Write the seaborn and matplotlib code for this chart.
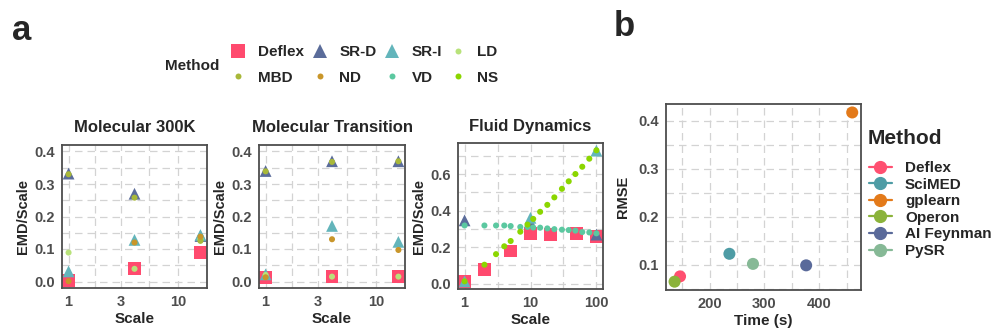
import matplotlib
matplotlib.use("Agg")
import matplotlib.pyplot as plt
from matplotlib.lines import Line2D
from matplotlib.ticker import FixedLocator, NullFormatter
import seaborn as sns
import pandas as pd

sns.set_style("white")
plt.rcParams['font.family'] = ['Liberation Sans', 'DejaVu Sans']
plt.rcParams['font.weight'] = 'bold'

# ---- panel a data ----
methods_a = ["Deflex", "SR-D", "SR-I", "LD", "MBD", "ND", "VD", "NS"]
colors_a = ["#FF4A6E", "#5B6C9A", "#63B5BB", "#B8E27A", "#A8B839", "#C9962A", "#5BC8A0", "#8BD600"]
markers_a = ["s", "^", "^", "o", "o", "o", "o", "o"]
sizes_a = [85, 72, 72, 19, 19, 19, 19, 19]

scale_mol = [1, 4, 16]
m300 = {
    "Deflex": [0.003, 0.039, 0.089],
    "SR-D": [0.332, 0.270, 0.140],
    "SR-I": [0.031, 0.128, 0.143],
    "LD": [0.089, 0.039, 0.130],
    "MBD": [0.330, 0.258, 0.125],
    "ND": [0.001, 0.120, 0.138],
}
mtrans = {
    "Deflex": [0.013, 0.015, 0.015],
    "SR-D": [0.340, 0.370, 0.370],
    "SR-I": [0.022, 0.171, 0.122],
    "LD": [0.020, 0.015, 0.015],
    "MBD": [0.339, 0.368, 0.370],
    "ND": [0.013, 0.130, 0.097],
}

scale_fd = [1, 2, 5, 10, 20, 50, 100]
fd_deflex = [0.010, 0.078, 0.178, 0.275, 0.268, 0.272, 0.258]
scale_sr = [1, 10, 100]
fd_srd = [0.346, 0.335, 0.268]
fd_sri = [0.012, 0.360, 0.728]
scale_dense = [1, 2, 3, 4, 5, 7, 9, 11, 14, 18, 23, 30, 38, 48, 61, 78, 100]
fd_vd = [0.318, 0.318, 0.318, 0.318, 0.315, 0.310, 0.310, 0.307, 0.306, 0.302,
         0.298, 0.295, 0.293, 0.290, 0.282, 0.280, 0.275]
fd_ns = [0.012, 0.103, 0.161, 0.204, 0.233, 0.284, 0.323, 0.354, 0.393, 0.431,
         0.472, 0.519, 0.560, 0.600, 0.640, 0.684, 0.730]

# ---- panel b data ----
methods_b = ["Deflex", "SciMED", "gplearn", "Operon", "AI Feynman", "PySR"]
colors_b = ["#FF4F70", "#4E9CA5", "#E37A1A", "#8BB33A", "#5A6A9A", "#86B996"]
time_b = [146, 236, 460, 136, 376, 279]
rmse_b = [0.076, 0.123, 0.417, 0.065, 0.099, 0.102]

pal_a = dict(zip(methods_a, colors_a))
mk_a = dict(zip(methods_a, markers_a))
sz_a = dict(zip(methods_a, sizes_a))

W, H = 998, 334
fig = plt.figure(figsize=(W / 100, H / 100), dpi=100)


def box(l, r, t, b):
    return [l / W, 1 - b / H, (r - l) / W, (b - t) / H]


FRAME = "#4D4D4D"
GRID = "#D3D3D3"


def style_ax(ax):
    for s in ax.spines.values():
        s.set_color(FRAME)
        s.set_linewidth(1.3)
    ax.grid(True, which="both", color=GRID, linestyle=(0, (6, 4)), linewidth=0.9)
    ax.set_axisbelow(True)
    ax.tick_params(which="major", direction="out", length=3, width=1, color=FRAME,
                   labelcolor="#4D4D4D", labelsize=10.5, pad=2)
    ax.tick_params(which="minor", length=0)
    for lab in ax.get_xticklabels() + ax.get_yticklabels():
        lab.set_fontweight("bold")


def long_df(xs, d):
    rows = []
    for m in methods_a:
        if m in d:
            for x, y in zip(xs[m] if isinstance(xs, dict) else xs, d[m]):
                rows.append((m, x, y))
    return pd.DataFrame(rows, columns=["Method", "Scale", "EMD"])


def draw_panel(ax, df, title, xticks, xminor, xlim, ylim, yticks):
    sns.scatterplot(data=df, x="Scale", y="EMD", hue="Method", style="Method", size="Method",
                    palette=pal_a, markers=mk_a, sizes=sz_a, linewidth=0, alpha=1,
                    legend=False, ax=ax)
    ax.set_xscale("log")
    ax.set_xlim(*xlim)
    ax.set_ylim(*ylim)
    ax.xaxis.set_major_locator(FixedLocator(xticks))
    ax.set_xticklabels([str(t) for t in xticks])
    ax.xaxis.set_minor_locator(FixedLocator(xminor))
    ax.xaxis.set_minor_formatter(NullFormatter())
    ax.set_yticks(yticks)
    ax.set_yticklabels([f"{t:.1f}" for t in yticks])
    ax.yaxis.set_minor_locator(FixedLocator([(a + b) / 2 for a, b in zip(yticks[:-1], yticks[1:])]
                                            + [yticks[-1] + (yticks[1] - yticks[0]) / 2]))
    ax.set_title(title, fontsize=12, fontweight="bold", pad=9)
    ax.set_xlabel("Scale", fontsize=11, fontweight="bold", labelpad=2)
    ax.set_ylabel("EMD/Scale", fontsize=10.5, fontweight="bold", labelpad=3)
    style_ax(ax)


ax1 = fig.add_axes(box(62, 207, 145, 288))
draw_panel(ax1, long_df(scale_mol, m300), "Molecular 300K", [1, 3, 10],
           [3 ** 0.5, 30 ** 0.5], (10 ** -0.06, 10 ** 1.264), (-0.02, 0.42),
           [0.0, 0.1, 0.2, 0.3, 0.4])

ax2 = fig.add_axes(box(259, 405, 145, 288))
draw_panel(ax2, long_df(scale_mol, mtrans), "Molecular Transition", [1, 3, 10],
           [3 ** 0.5, 30 ** 0.5], (10 ** -0.06, 10 ** 1.264), (-0.02, 0.42),
           [0.0, 0.1, 0.2, 0.3, 0.4])

fd = {"Deflex": fd_deflex, "SR-D": fd_srd, "SR-I": fd_sri, "VD": fd_vd, "NS": fd_ns}
fd_x = {"Deflex": scale_fd, "SR-D": scale_sr, "SR-I": scale_sr, "VD": scale_dense, "NS": scale_dense}
ax3 = fig.add_axes(box(458, 603, 143, 289))
draw_panel(ax3, long_df(fd_x, fd), "Fluid Dynamics", [1, 10, 100],
           [10 ** 0.5, 10 ** 1.5], (10 ** -0.1, 10 ** 2.1), (-0.03, 0.77),
           [0.0, 0.2, 0.4, 0.6])

# legend for panel a (row-major order rearranged for column-major fill)
handles = {m: Line2D([], [], linestyle="none", marker=mk_a[m], color=pal_a[m],
                     markersize=(9.5 if mk_a[m] != "o" else 4.3), markeredgewidth=0)
           for m in methods_a}
order = ["Deflex", "MBD", "SR-D", "ND", "SR-I", "VD", "LD", "NS"]
leg_a = fig.legend([handles[m] for m in order], order, loc="center left",
                   bbox_to_anchor=(230 / W, 1 - 65 / H), ncol=4, frameon=False,
                   prop={"size": 11, "weight": "bold"}, handlelength=1.1,
                   handletextpad=0.75, columnspacing=0.45, labelspacing=0.75,
                   borderpad=0, borderaxespad=0)
fig.text(192 / W, 1 - 66 / H, "Method", ha="center", va="center", fontsize=11, fontweight="bold")

# ---- panel b ----
dfb = pd.DataFrame({"Method": methods_b, "Time": time_b, "RMSE": rmse_b})
axb = fig.add_axes(box(666, 861, 104, 290))
sns.scatterplot(data=dfb, x="Time", y="RMSE", hue="Method", palette=dict(zip(methods_b, colors_b)),
                s=75, linewidth=0, alpha=1, legend=False, ax=axb)
axb.set_xlim(120.4, 476)
axb.set_ylim(0.0477, 0.4346)
axb.set_xticks([200, 300, 400])
axb.set_yticks([0.1, 0.2, 0.3, 0.4])
axb.set_yticklabels(["0.1", "0.2", "0.3", "0.4"])
axb.xaxis.set_minor_locator(FixedLocator([150, 250, 350, 450]))
axb.yaxis.set_minor_locator(FixedLocator([0.05, 0.15, 0.25, 0.35]))
axb.set_xlabel("Time (s)", fontsize=11, fontweight="bold", labelpad=2)
axb.set_ylabel("RMSE", fontsize=10.5, fontweight="bold", labelpad=6)
style_ax(axb)

hb = [Line2D([], [], color=c, marker="o", markersize=8.5, linewidth=1.6) for c in colors_b]
leg_b = fig.legend(hb, methods_b, loc="upper left", bbox_to_anchor=(869 / W, 1 - 161 / H),
                   frameon=False, prop={"size": 11, "weight": "bold"}, handlelength=1.5,
                   handletextpad=0.85, labelspacing=0.17, borderpad=0, borderaxespad=0)
fig.text(868 / W, 1 - 139 / H, "Method", fontsize=15, fontweight="bold", va="center", ha="left")

fig.text(12 / W, 1 - 30 / H, "a", fontsize=25, fontweight="bold", va="center", ha="left")
fig.text(614 / W, 1 - 26 / H, "b", fontsize=25, fontweight="bold", va="center", ha="left")

fig.savefig("out.png", dpi=100)
